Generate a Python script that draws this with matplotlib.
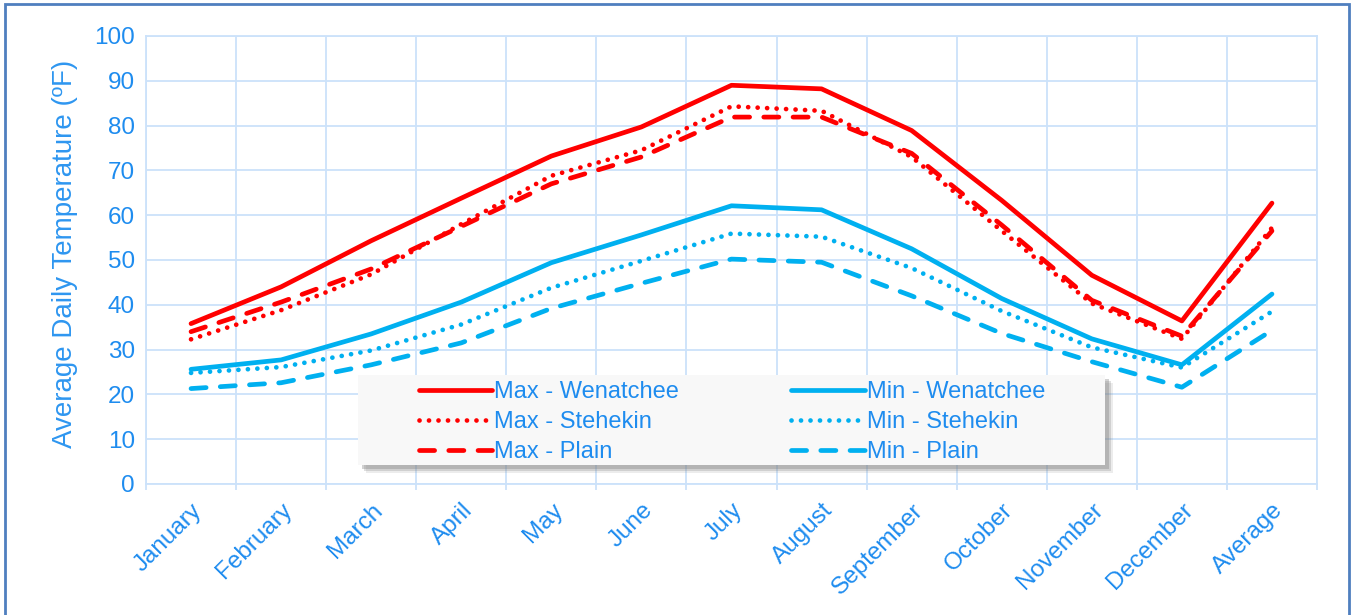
import matplotlib
matplotlib.use("Agg")
import matplotlib.pyplot as plt
from matplotlib.patches import Rectangle

plt.rcParams['font.family'] = ['Liberation Sans', 'DejaVu Sans']

categories = ["January", "February", "March", "April", "May", "June", "July",
              "August", "September", "October", "November", "December", "Average"]

max_wenatchee = [35.8, 44.0, 54.3, 63.8, 73.2, 79.7, 89.0, 88.2, 78.9, 63.3, 46.6, 36.4, 62.7]
max_stehekin = [32.3, 38.8, 46.8, 58.0, 68.8, 74.5, 84.3, 83.3, 73.0, 56.5, 40.3, 32.4, 57.2]
max_plain = [34.0, 40.6, 48.0, 57.5, 67.0, 73.0, 81.9, 81.9, 73.8, 57.8, 41.0, 33.0, 56.5]
min_wenatchee = [25.6, 27.7, 33.5, 40.6, 49.4, 55.6, 62.1, 61.2, 52.5, 41.4, 32.4, 26.6, 42.4]
min_stehekin = [24.8, 26.1, 29.8, 35.6, 43.8, 49.8, 55.9, 55.2, 48.2, 38.6, 30.5, 26.0, 38.5]
min_plain = [21.3, 22.6, 26.6, 31.5, 39.2, 44.8, 50.2, 49.5, 42.0, 33.6, 27.3, 21.6, 34.3]

y_ticks = list(range(0, 101, 10))

RED = "#FF0000"
CYAN = "#00B0F0"
TEXT = "#1E8CEF"
GRID = "#CCE2FA"
LW = 3.4
DOT = (0, (0.01, 2.0))
DASH = (0, (3.2, 3.0))

W, H = 1352, 615
fig = plt.figure(figsize=(W / 100, H / 100), dpi=100)
ax = fig.add_axes([146 / W, 1 - 484 / H, (1317 - 146) / W, (484 - 36) / H])

x = list(range(len(categories)))
series = [
    ("Max - Wenatchee", max_wenatchee, RED, "-"),
    ("Max - Stehekin", max_stehekin, RED, DOT),
    ("Max - Plain", max_plain, RED, DASH),
    ("Min - Wenatchee", min_wenatchee, CYAN, "-"),
    ("Min - Stehekin", min_stehekin, CYAN, DOT),
    ("Min - Plain", min_plain, CYAN, DASH),
]
handles = []
for label, vals, col, ls in series:
    h, = ax.plot(x, vals, color=col, linestyle=ls, linewidth=LW, label=label,
                 solid_capstyle="round", dash_capstyle="round",
                 solid_joinstyle="round", zorder=3)
    handles.append(h)

ax.set_xlim(-0.5, len(categories) - 0.5)
ax.set_ylim(0, 100)
ax.set_yticks(y_ticks)
ax.set_xticks(x)
ax.set_xticks([i - 0.5 for i in range(len(categories) + 1)], minor=True)
ax.set_xticklabels(categories, rotation=45, ha="right", rotation_mode="anchor")
ax.tick_params(axis="x", which="major", length=0, pad=11, labelsize=17.5, labelcolor=TEXT)
ax.tick_params(axis="x", which="minor", length=4, color=GRID, width=1.3)
ax.tick_params(axis="y", length=0, pad=8, labelsize=17.5, labelcolor=TEXT)
ax.grid(True, axis="y", which="major", color=GRID, linewidth=1.3, zorder=0)
ax.grid(True, axis="x", which="minor", color=GRID, linewidth=1.3, zorder=0)
for s in ax.spines.values():
    s.set_color(GRID)
    s.set_linewidth(1.3)

ax.set_ylabel("Average Daily Temperature (ºF)", fontsize=20, color="#2E96F0",
              va="center")
ax.yaxis.set_label_coords(-0.069, 0.513)

# Legend panel with a soft drop shadow
lx0, ly0, lx1, ly1 = 358, 375, 1105, 465
for off, a in [(8, 0.15), (6, 0.25), (4, 0.35)]:
    fig.patches.append(Rectangle(((lx0 + off) / W, 1 - (ly1 + off) / H),
                                 (lx1 - lx0) / W, (ly1 - ly0) / H,
                                 transform=fig.transFigure, facecolor="#808080",
                                 edgecolor="none", alpha=a, zorder=4))
fig.patches.append(Rectangle((lx0 / W, 1 - ly1 / H), (lx1 - lx0) / W, (ly1 - ly0) / H,
                             transform=fig.transFigure, facecolor="#F8F8F8",
                             edgecolor="none", zorder=5))

leg = fig.legend(handles=handles, ncol=2, loc="upper left",
                 bbox_to_anchor=(407 / W, 1 - 369 / H),
                 frameon=False, fontsize=17, labelcolor=TEXT,
                 handlelength=3.1, handletextpad=0.1, columnspacing=4.75,
                 labelspacing=0.35, borderpad=0.0)
leg.set_zorder(6)

# Outer frame
fig.patches.append(Rectangle((5 / W, -0.05), (1349 - 5) / W, 1.05 - 4 / H,
                             transform=fig.transFigure, facecolor="none",
                             edgecolor="#4F7FBF", linewidth=2.0, zorder=10))

fig.savefig("out.png", dpi=100, facecolor="white")
